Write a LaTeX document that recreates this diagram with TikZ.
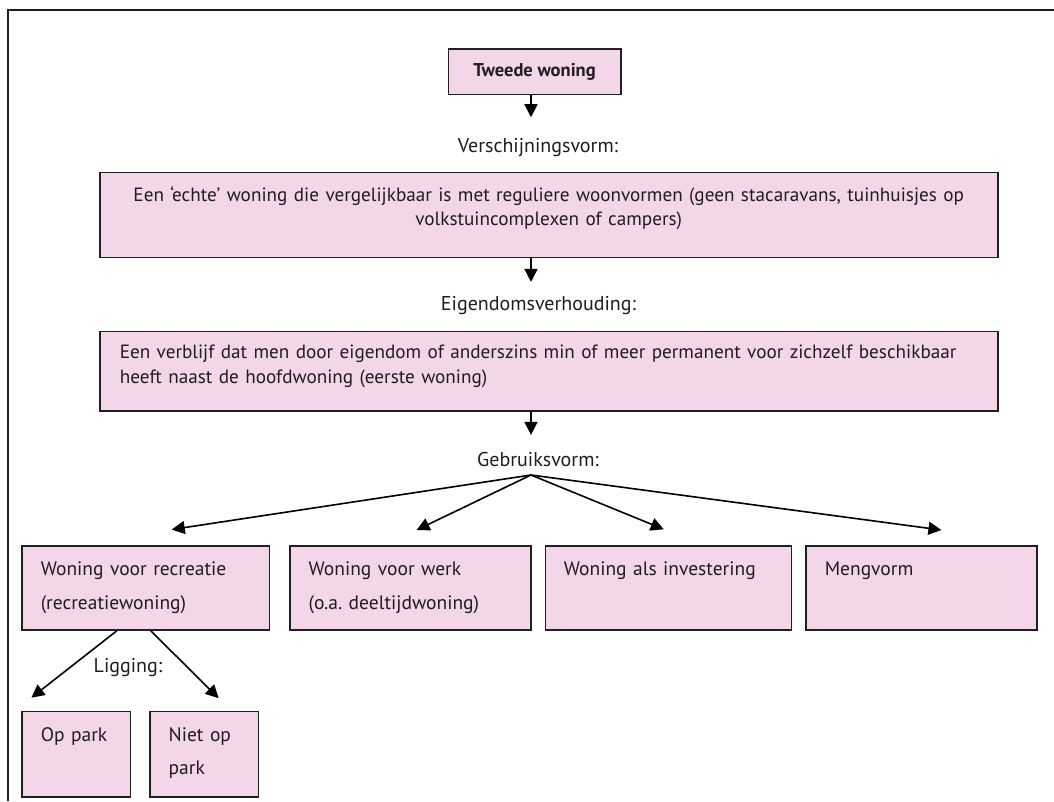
\documentclass[tikz,border=0pt]{standalone}
\usepackage{fontspec}
\setmainfont{PT Sans}
\usetikzlibrary{arrows.meta}

\definecolor{roze}{RGB}{244,214,234}
\definecolor{rand}{RGB}{35,31,32}
\definecolor{tekst}{RGB}{32,29,31}

\begin{document}
\begin{tikzpicture}[x=1pt,y=-1pt,
    box/.style={draw=rand, fill=roze, line width=1.5pt, anchor=north west,
                text=tekst, align=left, inner ysep=0pt,
                font=\fontsize{19.2}{24.3}\selectfont},
    wide/.style={box, text width=858pt, inner xsep=20pt},
    low/.style={box, inner xsep=18.6pt, text height=30pt, text depth=54.3pt,
                font=\fontsize{19.5}{33.5}\selectfont},
    lbl/.style={text=tekst, inner sep=1pt, anchor=base,
                font=\fontsize{20}{24}\selectfont},
    arr/.style={line width=1.6pt, -{Triangle[length=13pt,width=13pt]}}]
    \useasboundingbox (0,0) rectangle (1054,801);
    \draw[line width=2pt, rand] (8,801) -- (8,10) -- (1054,10);

    \node[box, anchor=center, align=center, inner sep=0pt,
          minimum width=172.7pt, minimum height=45.3pt,
          font=\bfseries\fontsize{18.5}{22}\selectfont] (tw) at (534.6,71.7) {Tweede woning};
    \node[lbl] (vv) at (538,152)   {Verschijningsvorm:};
    \node[wide, align=center, text height=29pt, text depth=56pt] (ver) at (99,171.7)
        {Een `echte' woning die vergelijkbaar is met reguliere woonvormen (geen stacaravans, tuinhuisjes op\\
         volkstuincomplexen of campers)};
    \node[lbl] (ev) at (538.5,310) {Eigendomsverhouding:};
    \node[wide, text height=27.5pt, text depth=51.8pt] (eig) at (99,330.7)
        {Een verblijf dat men door eigendom of anderszins min of meer permanent voor zichzelf beschikbaar\\
         heeft naast de hoofdwoning (eerste woning)};
    \node[lbl] (gv) at (538,466.7) {Gebruiksvorm:};

    \node[low, text width=210pt]   (rec)  at (21.4,545)  {Woning voor recreatie\\(recreatiewoning)};
    \node[low, text width=203.9pt] (werk) at (289.3,545) {Woning voor werk\\(o.a.\ deeltijdwoning)};
    \node[low, text width=209.1pt] (inv)  at (544.5,545) {Woning als investering};
    \node[low, text width=193.7pt] (meng) at (805.4,545) {Mengvorm};

    \node[lbl] (lg) at (128,672.3) {Ligging:};
    \node[low, text width=71pt, text depth=55.3pt]   (op)   at (21.4,710.7)  {Op park};
    \node[low, text width=71.4pt, text depth=55.3pt] (niet) at (149.3,710.7) {Niet op\\park};

    \coordinate (spine) at (531,0);
    \coordinate (split) at (531,475);

    \draw[arr, shorten >=19.4pt] (tw.south -| spine)  -- (vv.north -| spine);
    \draw[arr, shorten >=12.7pt] (ver.south -| spine) -- (ev.north -| spine);
    \draw[arr, shorten >=16.4pt] (eig.south -| spine) -- (gv.north -| spine);

    \draw[arr] (split) -- ([xshift=26pt,yshift=15.5pt]rec.north);
    \draw[arr] (split) -- ([xshift=6pt,yshift=15pt]werk.north);
    \draw[arr] (split) -- ([xshift=-4.6pt,yshift=15.7pt]inv.north);
    \draw[arr] (split) -- ([xshift=19.8pt,yshift=15pt]meng.north);

    \draw[arr] ([xshift=-29pt]rec.south) -- ([xshift=10pt,yshift=13pt]op.north west);
    \draw[arr] ([xshift=5pt]rec.south)   -- ([xshift=14.3pt,yshift=12.5pt]niet.north);
\end{tikzpicture}
\end{document}
